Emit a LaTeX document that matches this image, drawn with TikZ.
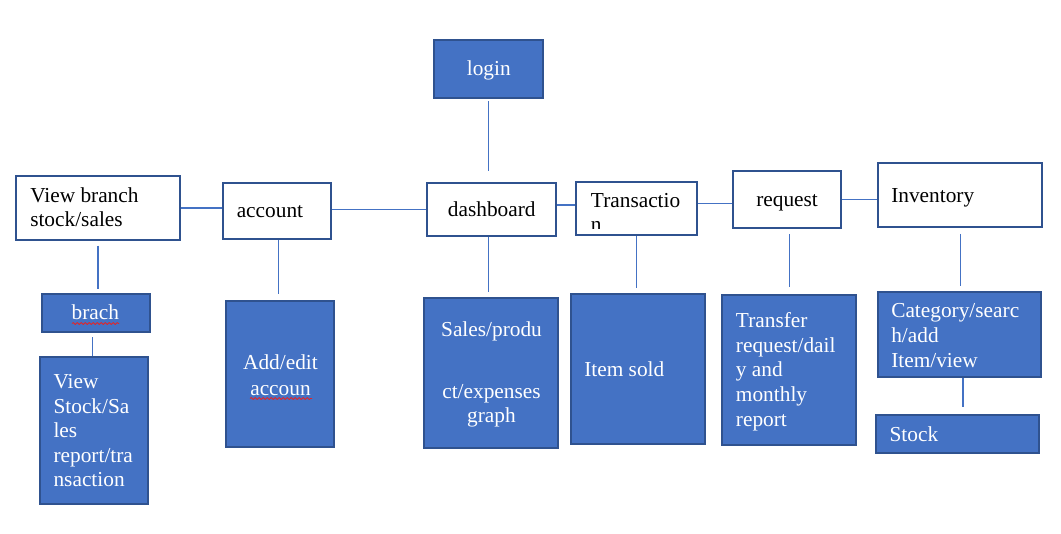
\documentclass[tikz,border=0pt]{standalone}
\usepackage{fontspec}
\setmainfont{Liberation Serif}
\usetikzlibrary{fit,decorations.pathmorphing}
\definecolor{boxblue}{HTML}{4472C4}
\definecolor{edgeblue}{HTML}{2F528F}
\definecolor{lineblue}{HTML}{4472C4}
\definecolor{spellred}{HTML}{E0262A}
\tikzset{
 wbox/.style={draw=edgeblue, line width=1.6pt, inner sep=0pt},
 bbox/.style={draw=edgeblue, line width=1.6pt, inner sep=0pt, fill=boxblue},
 conn/.style={draw=lineblue, line width=0.8pt},
 lbl/.style={inner sep=0pt, anchor=base west, font=\fontsize{16}{18}\selectfont},
 wlbl/.style={lbl, text=white},
 clbl/.style={lbl, anchor=base},
 cwlbl/.style={wlbl, anchor=base},
 squiggle/.style={draw=spellred, line width=0.6pt, decorate, decoration={snake, amplitude=0.7pt, segment length=3pt}},
}
\begin{document}
\begin{tikzpicture}[x=0.75pt,y=-0.75pt]
\useasboundingbox (0,0) rectangle (1061,533);
% boxes
\node[bbox, fit={(434,40)(543,98)}] (login) {};
\node[wbox, fit={(16,176)(180,240)}] (vb) {};
\node[wbox, fit={(223,183)(331,239)}] (acc) {};
\node[wbox, fit={(427,183)(556,236)}] (dash) {};
\node[wbox, fit={(576,182)(697,235)}] (trans) {};
\node[wbox, fit={(733,171)(841,228)}] (req) {};
\node[wbox, fit={(878,163)(1042,227)}] (inv) {};
\node[bbox, fit={(42,294)(150,332)}] (brach) {};
\node[bbox, fit={(40,357)(148,504)}] (vstock) {};
\node[bbox, fit={(226,301)(334,447)}] (addedit) {};
\node[bbox, fit={(424,298)(558,448)}] (sales) {};
\node[bbox, fit={(571,294)(705,444)}] (item) {};
\node[bbox, fit={(722,295)(856,445)}] (transfer) {};
\node[bbox, fit={(878,292)(1041,377)}] (cat) {};
\node[bbox, fit={(876,415)(1039,453)}] (stock) {};
% connectors
\draw[conn, shorten <=1.5pt, shorten >=8pt] (login.south) -- (login.south |- dash.north);
\draw[conn] (vb.east) -- (acc.west |- vb.east);
\draw[conn] (acc.east |- dash.west) -- (dash.west);
\draw[conn] ([yshift=3.4pt]dash.east) -- ([yshift=3.4pt]dash.east -| trans.west);
\draw[conn] ([yshift=3.9pt]trans.east) -- ([yshift=3.9pt]trans.east -| req.west);
\draw[conn] (req.east) -- (req.east -| inv.west);
\draw[conn, shorten <=3.5pt, shorten >=3pt] (vb.south) -- (vb.south |- brach.north);
\draw[conn, shorten <=3pt] ([xshift=-2.8pt]brach.south) -- ([xshift=-2.8pt]brach.south |- vstock.north);
\draw[conn, shorten >=4.5pt] ([xshift=1pt]acc.south) -- ([xshift=1pt]acc.south |- addedit.north);
\draw[conn, shorten >=4pt] ([xshift=-2.1pt]dash.south) -- ([xshift=-2.1pt]dash.south |- sales.north);
\draw[conn, shorten >=3.5pt] (trans.south) -- (trans.south |- item.north);
\draw[conn, shorten <=3.7pt, shorten >=5pt] ([xshift=2pt]req.south) -- ([xshift=2pt]req.south |- transfer.north);
\draw[conn, shorten <=4.3pt, shorten >=3.5pt] ([xshift=0.5pt]inv.south) -- ([xshift=0.5pt]inv.south |- cat.north);
\draw[conn, shorten >=5pt] ([xshift=2.6pt]cat.south) -- ([xshift=2.6pt]cat.south |- stock.north);
% texts
\node[cwlbl] (t-login) at (488.8,75) {login};
\node[lbl] (t-vb1) at (30,202.7) {View branch};
\node[lbl] (t-vb2) at (30,226.7) {stock/sales};
\node[lbl] (t-acc) at (236.5,217) {account};
\node[lbl] (t-dash) at (447.7,216) {dashboard};
\node[lbl] (t-trans) at (590.7,207.3) {Transactio};
\begin{scope}
\clip (577,183) rectangle (696,228.5);
\node[lbl] (t-trans2) at (590.7,231.8) {n};
\end{scope}
\node[lbl] (t-req) at (756,206.7) {request};
\node[lbl] (t-inv) at (891,202.3) {Inventory};
\node[cwlbl] (t-brach) at (95.3,319.3) {brach};
\draw[squiggle] (72,323.5) -- (119,323.5);
\node[wlbl] (t-vs1) at (53.3,388.3) {View};
\node[wlbl] (t-vs2) at (53.3,413.3) {Stock/Sa};
\node[wlbl] (t-vs3) at (53.3,437.8) {les};
\node[wlbl] (t-vs4) at (53.3,462.7) {report/tra};
\node[wlbl] (t-vs5) at (53.3,486.7) {nsaction};
\node[cwlbl] (t-ae1) at (280.5,369.3) {Add/edit};
\node[cwlbl] (t-ae2) at (280.5,395) {accoun};
\draw[squiggle] (250,398.5) -- (312,398.5);
\node[cwlbl] (t-s1) at (491.5,336) {Sales/produ};
\node[cwlbl] (t-s2) at (491.5,398.3) {ct/expenses};
\node[cwlbl] (t-s3) at (491.5,422) {graph};
\node[wlbl] (t-item) at (584,376.7) {Item sold};
\node[wlbl] (t-tr1) at (735.7,327.3) {Transfer};
\node[wlbl] (t-tr2) at (735.7,352) {request/dail};
\node[wlbl] (t-tr3) at (735.7,376.7) {y and};
\node[wlbl] (t-tr4) at (735.7,401.5) {monthly};
\node[wlbl] (t-tr5) at (735.7,426.2) {report};
\node[wlbl] (t-c1) at (891,317.3) {Category/searc};
\node[wlbl] (t-c2) at (891,342.3) {h/add};
\node[wlbl] (t-c3) at (891,367.3) {Item/view};
\node[wlbl] (t-stock) at (889.3,441.7) {Stock};
\end{tikzpicture}
\end{document}
